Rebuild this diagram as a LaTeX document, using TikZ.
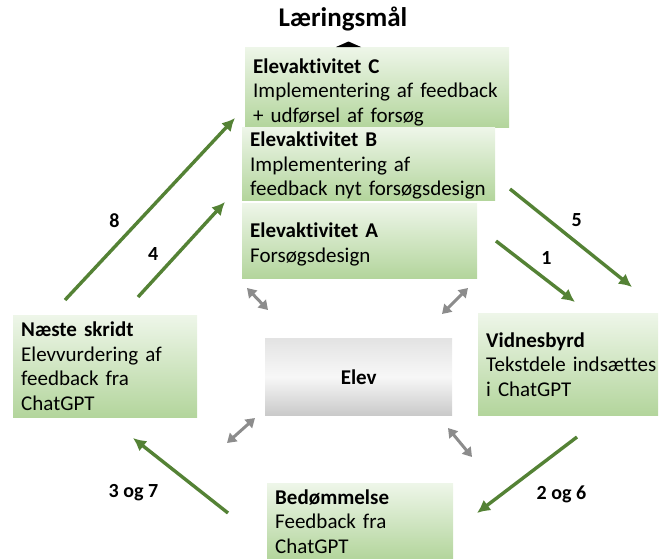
\documentclass[tikz,border=0pt]{standalone}
\usepackage{fontspec}
\setmainfont{Carlito}[Ligatures=NoCommon]
\usepackage{tikz}
\usetikzlibrary{shapes,arrows,arrows.meta}
\definecolor{boxtop}{HTML}{EEF6E9}
\definecolor{boxbot}{HTML}{B3D59C}
\definecolor{flowgreen}{HTML}{548235}
\definecolor{linkgray}{HTML}{8C8C8C}
\tikzstyle{block} = [draw=none, rectangle, top color=boxtop, bottom color=boxbot,
    anchor=north west, inner xsep=8pt, inner ysep=0pt, align=left,
    font=\fontsize{21}{24.5}\selectfont]
\tikzstyle{center} = [draw=none, rectangle, top color=gray!22, bottom color=gray!42,
    middle color=gray!6, anchor=north west, font=\bfseries\fontsize{21}{24.5}\selectfont]
\tikzstyle{point} = [coordinate]
\tikzstyle{flow} = [->, draw=flowgreen, line width=3.4pt]
\tikzstyle{link} = [<->, draw=linkgray, line width=3pt,
    >={Triangle[length=9pt,width=11pt]}]
\tikzstyle{num} = [font=\bfseries\fontsize{20}{24}\selectfont, inner sep=5pt]
\newcommand{\lift}[1]{\rule{0pt}{#1}}

\begin{document}
\begin{tikzpicture}[x=1pt, y=-1pt, auto, >={Latex[length=13pt,width=13pt]}]

\clip (0,0) rectangle (660,558);

\node [block, text width=248pt, minimum height=80pt] (elevC) at (245,47)
    {\lift{25pt}\textbf{Elevaktivitet C}\\Implementering af feedback\\+ udførsel af forsøg};
\node [block, text width=237pt, minimum height=73pt] (elevB) at (242,127)
    {\lift{19pt}\textbf{Elevaktivitet B}\\Implementering af\\feedback nyt forsøgsdesign};
\node [block, text width=219pt, minimum height=75pt] (elevA) at (242,203)
    {\lift{22pt}\textbf{Elevaktivitet A}\\Forsøgsdesign};
\node [block, text width=168pt, minimum height=102pt] (naeste) at (13,315)
    {\textbf{Næste skridt}\\Elevvurdering af\\feedback fra\\ChatGPT};
\node [block, text width=164pt, minimum height=102pt] (vidnes) at (478,313)
    {\textbf{Vidnesbyrd}\\\mbox{Tekstdele indsættes}\\i ChatGPT};
\node [block, text width=170pt, minimum height=76pt] (bedoem) at (267,483)
    {\textbf{Bedømmelse}\\Feedback fra\\ChatGPT};
\node [center, minimum width=187pt, minimum height=77pt] (elev) at (265,338) {Elev};
\node [font=\bfseries\fontsize{27}{30}\selectfont] (goal) at (343,19) {Læringsmål};

% goal marker
\node [point] (goaltip) at (348.5,47) {};
\fill (goaltip) -- ++(12.5,0) -- ++(-12.5,-5.5) -- ++(-12.5,5.5) -- cycle;

% green arrows
\node [point] (g8s) at (65,300) {};
\node [point] (g8e) at (235,118) {};
\node [point] (g4s) at (138,297) {};
\node [point] (g4e) at (225,202) {};
\node [point] (g5s) at (510,189) {};
\node [point] (g5e) at (632,287) {};
\node [point] (g1s) at (496,241) {};
\node [point] (g1e) at (575,302) {};
\node [point] (g26s) at (577,437) {};
\node [point] (g26e) at (477,513) {};
\node [point] (g37s) at (228,513) {};
\node [point] (g37e) at (133,438) {};
\draw [flow] (g8s) -- node[num, pos=.36] {8} (g8e);
\draw [flow] (g4s) -- node[num, pos=.31] {4} (g4e);
\draw [flow] (g5s) -- node[num, pos=.45] {5} (g5e);
\draw [flow] (g1s) -- node[num, pos=.49] {1} (g1e);
\draw [flow] (g26s) -- node[num, pos=.5, xshift=3pt, yshift=-4pt] {2 og 6} (g26e);
\draw [flow] (g37s) -- node[num, pos=.59, xshift=-7pt, yshift=-9pt] {3 og 7} (g37e);

% gray links round Elev
\node [point] (l1a) at (247,288) {};
\node [point] (l1b) at (268,310) {};
\node [point] (l2a) at (442,314) {};
\node [point] (l2b) at (468,288) {};
\node [point] (l3a) at (227,443) {};
\node [point] (l3b) at (255,418) {};
\node [point] (l4a) at (448,428) {};
\node [point] (l4b) at (472,457) {};
\draw [link] (l1a) -- (l1b);
\draw [link] (l2a) -- (l2b);
\draw [link] (l3a) -- (l3b);
\draw [link] (l4a) -- (l4b);

\end{tikzpicture}
\end{document}
